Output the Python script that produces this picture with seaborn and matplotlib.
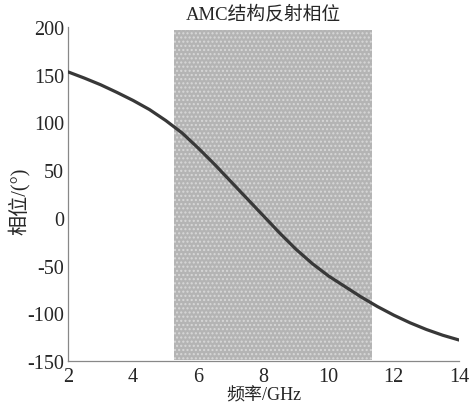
"""
AMC reflection phase chart
"""

import matplotlib
matplotlib.use("Agg")

import numpy as np
import pandas as pd

import matplotlib.pyplot as plt
import seaborn as sns

##########################################################
# Data
##########################################################

freq_ghz = [2.0, 2.5, 3.0, 3.5, 4.0, 4.5, 5.0, 5.5, 6.0, 6.5, 7.0,
            7.5, 8.0, 8.5, 9.0, 9.5, 10.0, 10.5, 11.0, 11.5,
            12.0, 12.5, 13.0, 13.5, 14.0]

phase_deg = [153, 146.5, 139.5, 131.5, 123, 113.5, 102, 89, 73, 56, 38,
             20, 2, -16, -33, -48, -61, -72, -83, -93,
             -102, -110, -117, -123, -128]

band_ghz = [5.25, 11.32]
band_deg = [-149, 197]

title_text = "AMC结构反射相位"
x_label = "频率/GHz"
y_label = "相位/(°)"

x_ticks = [2, 4, 6, 8, 10, 12, 14]
y_ticks = [-150, -100, -50, 0, 50, 100, 150, 200]

df = pd.DataFrame({"freq": freq_ghz, "phase": phase_deg})

##########################################################
# Style
##########################################################

sns.set_style("white")

plt.rcParams["font.family"] = ["Liberation Serif", "Noto Sans CJK SC"]
plt.rcParams["axes.unicode_minus"] = False

##########################################################
# Figure
##########################################################

fig = plt.figure(figsize=(4.71, 4.06), dpi=100)

ax = fig.add_axes([0.1444, 0.1084, 0.8301, 0.8226])

# shaded band
ax.fill_between(
    band_ghz,
    band_deg[0],
    band_deg[1],
    facecolor="#b4b4b4",
    edgecolor="#d8d8d8",
    linewidth=0,
    hatch="....",
    zorder=1
)

sns.lineplot(
    data=df,
    x="freq",
    y="phase",
    color="#383838",
    linewidth=2.3,
    ax=ax,
    zorder=3
)

##########################################################
# Axes
##########################################################

ax.set_xlim(2, 14)
ax.set_ylim(-150, 200)

ax.set_xticks(x_ticks)
ax.set_yticks(y_ticks)

ax.tick_params(
    direction="in",
    length=3,
    width=0.8,
    color="#888888",
    labelsize=14.5,
    pad=3
)

ax.tick_params(axis="x", pad=4)

for side in ["top", "right"]:
    ax.spines[side].set_visible(False)

for side in ["left", "bottom"]:
    ax.spines[side].set_color("#888888")
    ax.spines[side].set_linestyle((0, (4, 1)))
    ax.spines[side].set_linewidth(0.9)

ax.set_xlabel(x_label, fontsize=13, labelpad=1)
ax.set_ylabel(y_label, fontsize=14.5)
ax.yaxis.set_label_coords(-0.097, 0.48)

ax.set_title(title_text, fontsize=13.5, pad=6)

plt.savefig("out.png", dpi=100)

plt.close()
